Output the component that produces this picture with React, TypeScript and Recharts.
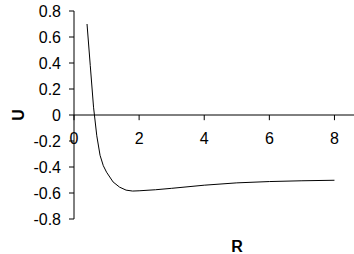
import { LineChart, Line, XAxis, YAxis, ReferenceLine, Label } from "recharts";

// R values and potential U
const rValues = [0.4, 0.5, 0.6, 0.7, 0.8, 0.9, 1.0, 1.2, 1.4, 1.6, 1.8, 2.0, 2.5, 3, 4, 5, 6, 7, 8];
const uValues = [0.7, 0.38, 0.06, -0.16, -0.31, -0.39, -0.44, -0.515, -0.555, -0.578, -0.585, -0.583, -0.575, -0.564, -0.54, -0.522, -0.512, -0.506, -0.502];

const xTicks = [0, 2, 4, 6, 8];
const yTicks = [-0.8, -0.6, -0.4, -0.2, 0, 0.2, 0.4, 0.6, 0.8];

const data = rValues.map((r, i) => ({ r, u: uValues[i] }));

const FONT = '"Liberation Sans", Arial, sans-serif';

export default function App() {
  return (
    <div style={{ position: "absolute", left: 0, top: 0, background: "#fff" }}>
      <LineChart
        width={354}
        height={254}
        data={data}
        margin={{ top: 11, right: 0, bottom: 0, left: 0 }}
        style={{ fontFamily: FONT }}
      >
        <XAxis
          type="number"
          dataKey="r"
          domain={[0, 8.6]}
          ticks={xTicks}
          tick={false}
          axisLine={false}
          tickLine={false}
          height={35}
        >
          <Label
            value="R"
            position="insideBottom"
            offset={2}
            dx={23}
            style={{ fontSize: 16, fontWeight: "bold", fill: "#000", fontFamily: FONT }}
          />
        </XAxis>
        <YAxis
          type="number"
          domain={[-0.8, 0.8]}
          ticks={yTicks}
          width={74}
          tickSize={5}
          tickMargin={8}
          tickFormatter={(v) => String(v)}
          tick={{ fontSize: 16, fill: "#000", fontFamily: FONT }}
          axisLine={{ stroke: "#000" }}
          tickLine={{ stroke: "#000" }}
        >
          <Label
            value="U"
            angle={-90}
            position="insideLeft"
            offset={15}
            dx={3}
            style={{ fontSize: 16, fontWeight: "bold", fill: "#000", textAnchor: "middle", fontFamily: FONT }}
          />
        </YAxis>
        {/* x axis drawn through U = 0 */}
        <ReferenceLine y={0} stroke="#000" />
        {xTicks.map((t) => (
          <ReferenceLine
            key={t}
            segment={[
              { x: t, y: 0 },
              { x: t, y: -0.04 },
            ]}
            stroke="#000"
            label={{ value: String(t), position: "bottom", offset: 12, fontSize: 16, fill: "#000", fontFamily: FONT }}
          />
        ))}
        <Line
          type="linear"
          dataKey="u"
          stroke="#000"
          strokeWidth={1}
          dot={false}
          isAnimationActive={false}
        />
      </LineChart>
    </div>
  );
}
